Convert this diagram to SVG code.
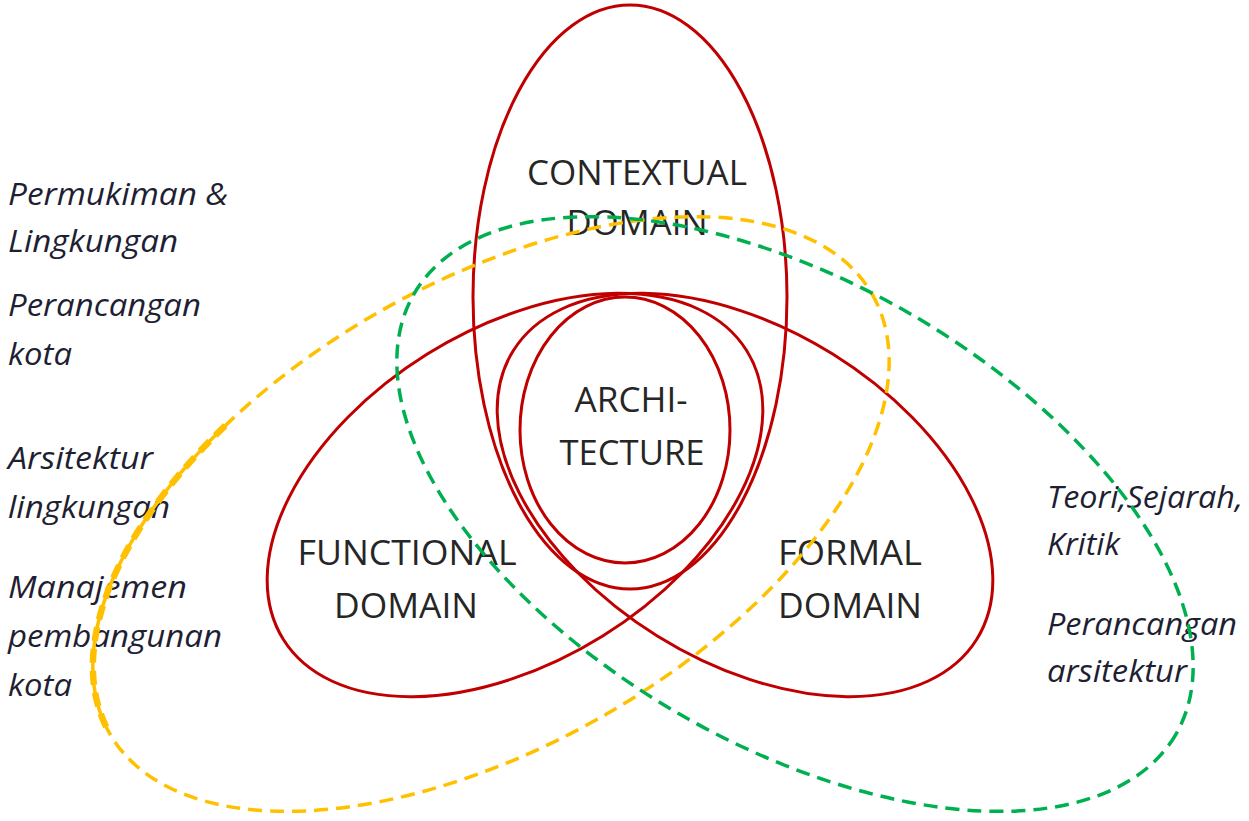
<svg xmlns="http://www.w3.org/2000/svg" width="1249" height="821" viewBox="0 0 1249 821">
<style>
.red{fill:none;stroke:#C00000;stroke-width:3}
.yel{fill:none;stroke:#FFC000;stroke-width:3.5;stroke-dasharray:14 8}
.grn{fill:none;stroke:#00B050;stroke-width:3.5;stroke-dasharray:14 8}
.lbl{font-family:"Open Sans","Noto Sans",sans-serif;font-size:35px;fill:#262626;text-anchor:middle}
.side{font-family:"Open Sans","Noto Sans",sans-serif;font-style:italic;font-size:31px;fill:#1f1f33}
</style>
<rect width="1249" height="821" fill="#ffffff"/>
<g id="contextual">
<ellipse class="red" cx="630" cy="297" rx="157" ry="292"/>
</g>
<g id="functional">
<ellipse class="red" cx="515" cy="495" rx="273" ry="166" transform="rotate(-31.9 515 495)"/>
</g>
<g id="formal">
<ellipse class="red" cx="745" cy="495" rx="273" ry="166" transform="rotate(31.9 745 495)"/>
</g>
<g id="architecture">
<ellipse class="red" cx="625" cy="430" rx="105" ry="133"/>
</g>
<g id="labels">
<text class="lbl" x="637" y="185" textLength="220" lengthAdjust="spacingAndGlyphs">CONTEXTUAL</text>
<text class="lbl" x="637" y="235" textLength="141" lengthAdjust="spacingAndGlyphs">DOMAIN</text>
<text class="lbl" x="631" y="412" textLength="113" lengthAdjust="spacingAndGlyphs">ARCHI-</text>
<text class="lbl" x="632" y="465" textLength="145" lengthAdjust="spacingAndGlyphs">TECTURE</text>
<text class="lbl" x="407" y="565" textLength="219" lengthAdjust="spacingAndGlyphs">FUNCTIONAL</text>
<text class="lbl" x="406" y="618" textLength="144" lengthAdjust="spacingAndGlyphs">DOMAIN</text>
<text class="lbl" x="850" y="565" textLength="144" lengthAdjust="spacingAndGlyphs">FORMAL</text>
<text class="lbl" x="850" y="618" textLength="144" lengthAdjust="spacingAndGlyphs">DOMAIN</text>
<text class="side" x="8" y="205" textLength="220" lengthAdjust="spacingAndGlyphs">Permukiman &amp;</text>
<text class="side" x="8" y="252" textLength="170" lengthAdjust="spacingAndGlyphs">Lingkungan</text>
<text class="side" x="8" y="316" textLength="193" lengthAdjust="spacingAndGlyphs">Perancangan</text>
<text class="side" x="8" y="365" textLength="64" lengthAdjust="spacingAndGlyphs">kota</text>
<text class="side" x="8" y="469" textLength="145" lengthAdjust="spacingAndGlyphs">Arsitektur</text>
<text class="side" x="8" y="518" textLength="162" lengthAdjust="spacingAndGlyphs">lingkungan</text>
<text class="side" x="8" y="598" textLength="179" lengthAdjust="spacingAndGlyphs">Manajemen</text>
<text class="side" x="8" y="647" textLength="214" lengthAdjust="spacingAndGlyphs">pembangunan</text>
<text class="side" x="8" y="696" textLength="64" lengthAdjust="spacingAndGlyphs">kota</text>
<text class="side" x="1047" y="508" textLength="196" lengthAdjust="spacingAndGlyphs">Teori,Sejarah,</text>
<text class="side" x="1047" y="555" textLength="73" lengthAdjust="spacingAndGlyphs">Kritik</text>
<text class="side" x="1047" y="635" textLength="190" lengthAdjust="spacingAndGlyphs">Perancangan</text>
<text class="side" x="1047" y="682" textLength="140" lengthAdjust="spacingAndGlyphs">arsitektur</text>
</g>
<g id="yellow-domain">
<g transform="translate(491 514) rotate(-30)">
<ellipse class="yel" cx="0" cy="0" rx="440" ry="231"/>
<path class="yel" style="stroke-width:6.5" d="M -439.7 -8.1 A 440 231 0 0 1 -179 -211"/>
</g>
</g>
<g id="green-domain">
<ellipse class="grn" cx="795" cy="514" rx="440" ry="231" transform="rotate(30 795 514)"/>
</g>
</svg>
